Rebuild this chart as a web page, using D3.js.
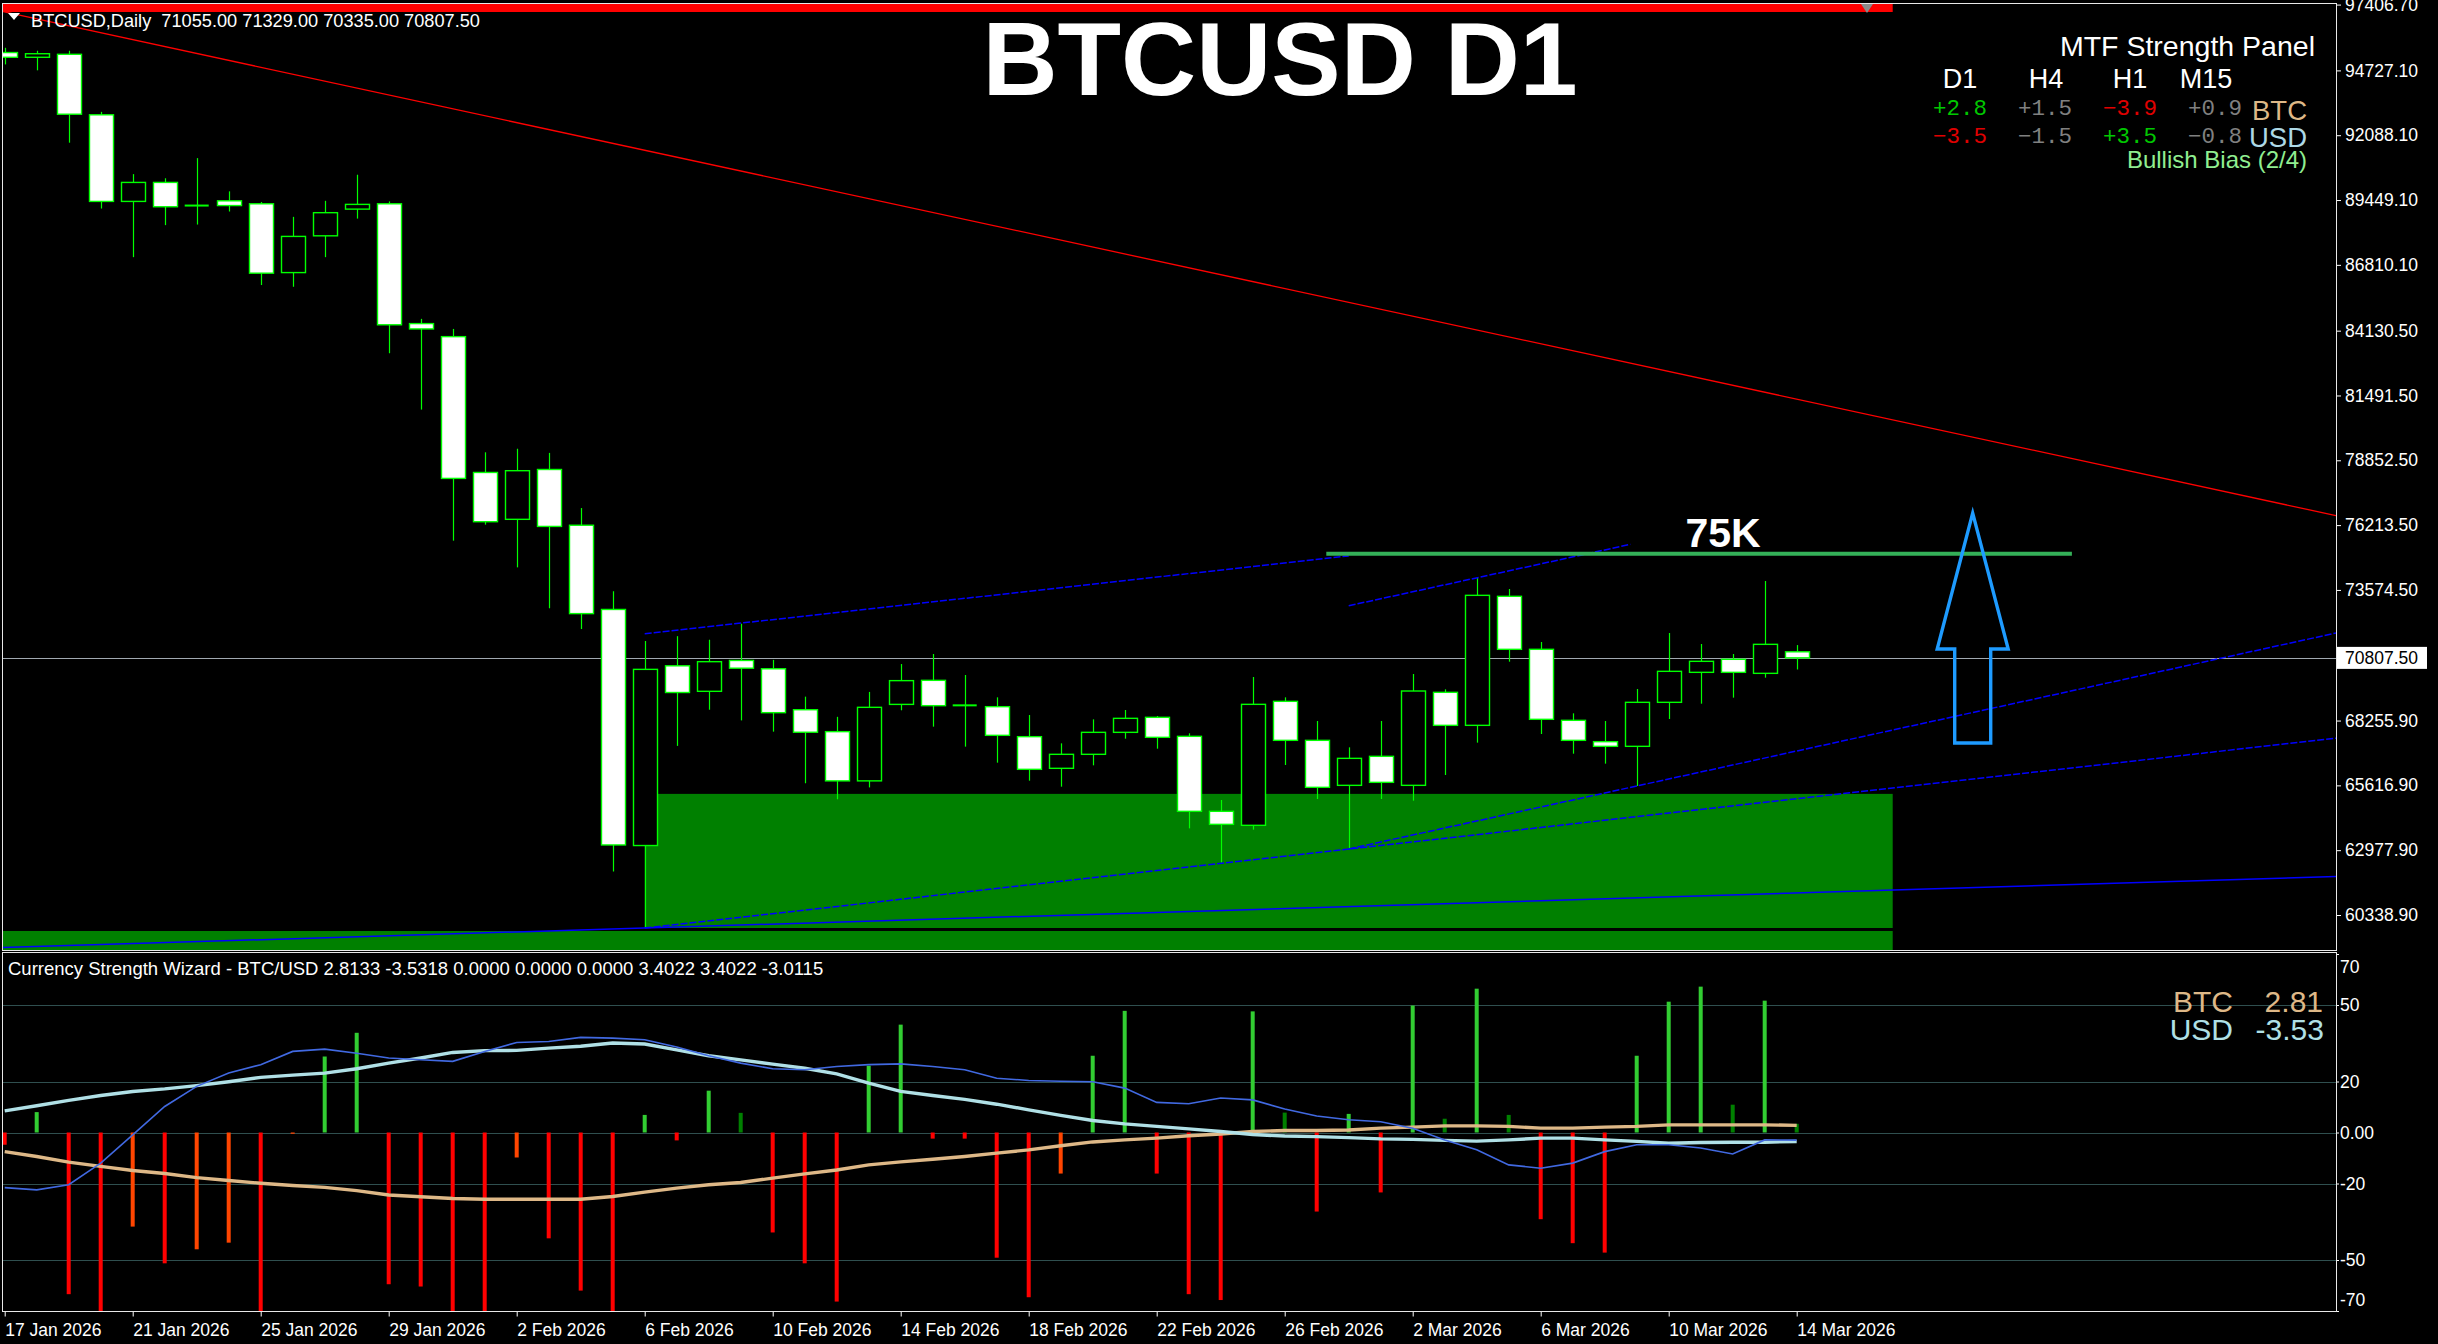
<!DOCTYPE html>
<html><head><meta charset="utf-8">
<script src="https://cdn.jsdelivr.net/npm/d3@7"></script>
<style>
html,body{margin:0;padding:0;background:#000;overflow:hidden}
svg{display:block}
</style></head><body>
<svg id="c" width="2438" height="1344"></svg>
<script>
// ---------------- DATA ----------------
const dates = ["2026-01-17","2026-01-18","2026-01-19","2026-01-20","2026-01-21","2026-01-22","2026-01-23","2026-01-24","2026-01-25","2026-01-26","2026-01-27","2026-01-28","2026-01-29","2026-01-30","2026-01-31",
"2026-02-01","2026-02-02","2026-02-03","2026-02-04","2026-02-05","2026-02-06","2026-02-07","2026-02-08","2026-02-09","2026-02-10","2026-02-11","2026-02-12","2026-02-13","2026-02-14","2026-02-15","2026-02-16","2026-02-17","2026-02-18","2026-02-19","2026-02-20","2026-02-21","2026-02-22","2026-02-23","2026-02-24","2026-02-25","2026-02-26","2026-02-27","2026-02-28",
"2026-03-01","2026-03-02","2026-03-03","2026-03-04","2026-03-05","2026-03-06","2026-03-07","2026-03-08","2026-03-09","2026-03-10","2026-03-11","2026-03-12","2026-03-13","2026-03-14"];
const open  = [95454,95261,95382,92919,89393,90166,89224,89417,89296,86495,87992,89079,89296,84418,83887,78357,76449,78478,76208,72779,63167,70485,69446,70702,70364,68697,67804,65800,68914,69893,68875,68821,67600,66311,66881,67776,68387,67613,64560,63990,69038,67450,65618,66799,65618,69405,68061,73314,71156,68265,67396,67206,68998,70219,70749,70178,71055];
const high  = [95648,95527,95527,93039,90504,90335,91156,89803,89369,88765,89417,90480,89393,84611,84201,79178,79323,79154,76908,73524,71499,71692,71547,72199,70726,69229,68408,69422,70557,70966,70110,69201,68482,67328,68305,68685,68441,67736,65021,70029,69201,68238,67165,68238,70152,69527,74087,73612,71454,68550,68238,69541,71821,71373,70966,73938,71329];
const low   = [94971,94730,91784,89103,87123,88427,88451,88982,85988,85917,87123,88693,83211,80917,75580,76232,74493,72827,71982,62105,59810,67224,68697,68262,67804,65703,65051,65534,68673,68007,67193,66541,65808,65564,66433,67518,67111,63867,62470,63813,66446,65062,63026,65062,64994,66039,67356,70653,67708,66907,66501,65591,68319,68943,69188,70002,70335];
const close = [95261,95406,92943,89393,90166,89176,89224,89224,86471,87968,88934,89272,84370,84201,78115,76352,78429,76160,72610,63191,70340,69398,70653,70388,68577,67780,65800,68794,69881,68862,68875,67654,66270,66881,67776,68346,67573,64560,64030,68916,67450,65537,66717,65740,69459,68061,73354,71156,68306,67450,67206,68998,70260,70667,70219,71359,70807.5];

const dateTicks = ["17 Jan 2026","21 Jan 2026","25 Jan 2026","29 Jan 2026","2 Feb 2026","6 Feb 2026","10 Feb 2026","14 Feb 2026","18 Feb 2026","22 Feb 2026","26 Feb 2026","2 Mar 2026","6 Mar 2026","10 Mar 2026","14 Mar 2026"];
const priceTicks = [97406.70,94727.10,92088.10,89449.10,86810.10,84130.50,81491.50,78852.50,76213.50,73574.50,68255.90,65616.90,62977.90,60338.90];
const lastPrice = 70807.5;
const symbolHeader = "BTCUSD,Daily  71055.00 71329.00 70335.00 70807.50";
const chartTitle = "BTCUSD D1";

// chart objects (bar index, price)
const redTrend = [{t:0,p:97105},{t:56,p:81344}];
const blueSegA = [{t:20,p:71790},{t:42,p:74960}];
const blueSegB = [{t:42,p:72930},{t:50.8,p:75430}];
const blueRayC = [{t:42,p:63026},{t:51,p:65591}];
const blueRayD = [{t:20,p:59810},{t:42,p:63026}];
const blueRayE = [{t:0,p:59016},{t:20,p:59810}];
const demandZone = {t0:20, t1:59, pTop:65270, pBot:59810};
const lowerStrip = {t0:-2, t1:59, pTop:59688, pBot:58700};
const topBand = {t0:-2, t1:59, pTop:97440, pBot:97105};
const level75 = {t0:41.3, t1:64.6, p:75050, label:"75K", labelT:53.7};
const upArrow = {t:61.5, pTip:76700, pHead:71169, pBottom:67340};

// MTF panel
const tfNames = ["D1","H4","H1","M15"];
const btcStrength = [2.8,1.5,-3.9,0.9];
const usdStrength = [-3.5,-1.5,3.5,-0.8];
const biasText = "Bullish Bias (2/4)";

// indicator
const indBuffers = [2.8133,-3.5318,0,0,0,3.4022,3.4022,-3.0115];
const hist = [-4.8,8.0,-63.4,-75,-36.9,-51.3,-45.8,-43.2,-75,-0.5,29.8,39.1,-59.5,-60.4,-75,-75,-9.8,-41.5,-62,-75,6.9,-3.1,16.4,7.7,-39.2,-51.3,-66.3,26.2,42.3,-2.4,-2.4,-49.1,-64.6,-16.1,30.1,47.7,-16.1,-63.4,-65.7,47.5,7.8,-31,7.3,-23.5,49.8,5.4,56.4,6.9,-34,-43.4,-47.1,30.1,51.3,57.2,10.9,51.7,3.4];
const histType = ["r","g","r","r","o","r","o","o","r","o","g","g","r","r","r","r","o","r","r","r","g","r","g","d","r","r","r","g","g","r","r","r","r","o","g","g","r","r","r","g","d","r","g","r","g","d","g","d","r","r","r","g","g","g","d","g","d"];
const btcLine = [-7.5,-9.4,-11.6,-13.3,-14.9,-16.1,-17.7,-18.8,-19.9,-20.8,-21.5,-22.8,-24.5,-25.2,-25.9,-26.2,-26.2,-26.2,-26.2,-25.1,-23.4,-21.8,-20.5,-19.6,-17.9,-16.2,-14.7,-12.7,-11.5,-10.5,-9.4,-8.1,-6.8,-5.2,-3.7,-2.9,-2.2,-1.3,-0.6,0.4,0.8,0.8,1.0,1.7,2.1,2.6,2.6,2.4,1.7,1.7,2.1,2.4,3.0,3.0,3.0,3.0,2.81];
const usdLine = [8.5,10.5,12.6,14.5,16.1,17.1,18.4,19.9,21.6,22.5,23.3,25.0,27.2,29.2,31.4,32.1,32.2,33.1,33.8,35.1,34.7,32.4,30.1,28.5,26.8,25.2,23.0,19.4,16.1,14.5,13.0,11.1,8.9,6.7,4.7,3.4,2.4,1.4,0.4,-0.8,-1.4,-1.6,-2.0,-2.5,-2.7,-3.1,-3.4,-2.9,-2.2,-2.2,-2.9,-3.5,-4.2,-3.9,-3.8,-3.8,-3.53];
const sigLine = [-21.6,-22.5,-20.5,-12.0,-0.9,10.2,18.1,23.3,26.6,31.8,32.7,31.1,29.2,28.5,27.9,31.8,35.3,35.7,37.3,37.0,36.4,33.5,30.1,27.2,25.0,24.6,25.9,26.6,26.9,25.9,24.6,21.3,20.4,20.1,19.9,17.4,11.8,11.3,13.5,12.8,9.2,6.5,5.0,4.2,1.7,-2.9,-6.8,-12.7,-14.0,-12.0,-7.5,-4.8,-4.8,-6.1,-8.4,-2.9,-3.0];
const indLevels = [50,20,0,-20,-50];
const indTicks = [70,50,20,0,-20,-50,-70];
const btcNow = 2.81, usdNow = -3.53;

// ---------------- LAYOUT ----------------
const mainL=2, mainR=2336, mainT=3, mainB=950, indT=953, indB=1311;
const FONT = "'Liberation Sans', Arial, sans-serif";
const svg = d3.select("#c");
svg.append("rect").attr("width",2438).attr("height",1344).attr("fill","#000");

const x = d3.scaleLinear().domain([0,56]).range([4.7,1796.7]);
const y = d3.scaleLinear().domain([60338.9,94727.1]).range([915,70.4]);
const yi = d3.scaleLinear().domain([-70,70]).range([indB,954]);

const defs = svg.append("defs");
defs.append("clipPath").attr("id","clipMain").append("rect").attr("x",mainL).attr("y",mainT).attr("width",mainR-mainL).attr("height",mainB-mainT);
defs.append("clipPath").attr("id","clipInd").append("rect").attr("x",mainL).attr("y",indT).attr("width",mainR-mainL).attr("height",indB-indT);

const gm = svg.append("g").attr("clip-path","url(#clipMain)");

// zones
function zoneRect(z, color){
  gm.append("rect").attr("x",x(z.t0)).attr("y",y(z.pTop))
    .attr("width",x(z.t1)-x(z.t0)).attr("height",y(z.pBot)-y(z.pTop)).attr("fill",color);
}
zoneRect(demandZone,"#008000");
zoneRect(lowerStrip,"#008000");
zoneRect(topBand,"#ff0000");

// current price line (behind candles)
gm.append("line").attr("x1",mainL).attr("x2",mainR).attr("y1",Math.round(y(lastPrice))+0.5).attr("y2",Math.round(y(lastPrice))+0.5)
  .attr("stroke","#a0a8b0").attr("stroke-width",1);

// candles
const idx = d3.range(dates.length);
const cg = gm.append("g");
cg.selectAll("line.wick").data(idx).join("line").attr("class","wick")
  .attr("x1",i=>Math.round(x(i))+0.5).attr("x2",i=>Math.round(x(i))+0.5)
  .attr("y1",i=>y(high[i])).attr("y2",i=>y(low[i]))
  .attr("stroke","#00ff00").attr("stroke-width",1.2);
cg.selectAll("rect.body").data(idx.filter(i=>open[i]!==close[i])).join("rect").attr("class","body")
  .attr("x",i=>Math.round(x(i))-11.5).attr("width",24)
  .attr("y",i=>y(Math.max(open[i],close[i]))).attr("height",i=>Math.max(1,Math.abs(y(open[i])-y(close[i]))))
  .attr("fill",i=>close[i]<open[i]?"#ffffff":"#000000")
  .attr("stroke","#00ff00").attr("stroke-width",1.4);
cg.selectAll("line.doji").data(idx.filter(i=>open[i]===close[i])).join("line").attr("class","doji")
  .attr("x1",i=>x(i)-12).attr("x2",i=>x(i)+12).attr("y1",i=>y(open[i])).attr("y2",i=>y(open[i]))
  .attr("stroke","#00ff00").attr("stroke-width",2);

// trend lines
function drawLine(pts, mode, color, width, dash){
  const x1=x(pts[0].t), y1=y(pts[0].p), x2=x(pts[1].t), y2=y(pts[1].p);
  const k=(y2-y1)/(x2-x1);
  let ax=x1, ay=y1, bx=x2, by=y2;
  if(mode==="right"||mode==="both"){ bx=mainR; by=y1+k*(mainR-x1); }
  if(mode==="both"){ ax=mainL; ay=y1+k*(mainL-x1); }
  const l = gm.append("line").attr("x1",ax).attr("y1",ay).attr("x2",bx).attr("y2",by)
    .attr("stroke",color).attr("stroke-width",width);
  if(dash) l.attr("stroke-dasharray",dash);
}
drawLine(redTrend,"both","#ff0000",1.3,null);
drawLine(blueSegA,"seg","#0000ff",1.5,"7,2");
drawLine(blueSegB,"seg","#0000ff",1.5,"7,2");
drawLine(blueRayC,"right","#0000ff",1.5,"7,2");
drawLine(blueRayD,"right","#0000ff",1.5,"7,2");
drawLine(blueRayE,"both","#0000ff",1.5,null);

// 75K level
gm.append("line").attr("x1",x(level75.t0)).attr("x2",x(level75.t1)).attr("y1",y(level75.p)).attr("y2",y(level75.p))
  .attr("stroke","#34b058").attr("stroke-width",4);
gm.append("text").attr("x",x(level75.labelT)).attr("y",y(level75.p)-7).attr("text-anchor","middle")
  .attr("font-family",FONT).attr("font-weight","bold").attr("font-size",41).attr("fill","#fff").text(level75.label);

// up arrow
{
  const cx=x(upArrow.t), yt=y(upArrow.pTip), yh=y(upArrow.pHead), yb=y(upArrow.pBottom);
  const hw=35.5, sw=18;
  const pts=[[cx,yt],[cx+hw,yh],[cx+sw,yh],[cx+sw,yb],[cx-sw,yb],[cx-sw,yh],[cx-hw,yh]];
  gm.append("polygon").attr("points",pts.map(p=>p.join(",")).join(" "))
    .attr("fill","none").attr("stroke","#1e9bff").attr("stroke-width",3.4).attr("stroke-linejoin","miter");
}

// top marker triangle (chart shift)
svg.append("polygon").attr("points","1861,4 1873,4 1867,13").attr("fill","#8a8a8a");

// header
svg.append("polygon").attr("points","8,13 20,13 14,20").attr("fill","#fff");
svg.append("text").attr("x",31).attr("y",26.5).attr("font-family",FONT).attr("font-size",18.2)
  .attr("fill","#fff").style("white-space","pre").text(symbolHeader);

// big title
svg.append("text").attr("x",1280).attr("y",95).attr("text-anchor","middle").attr("font-family",FONT)
  .attr("font-weight","bold").attr("font-size",104).attr("fill","#fff").text(chartTitle);

// MTF panel
svg.append("text").attr("x",2315).attr("y",56).attr("text-anchor","end").attr("font-family",FONT)
  .attr("font-size",28.5).attr("fill","#fff").text("MTF Strength Panel");
const hdrX=[1960,2046,2130,2206], valX=[1960,2045,2130,2215];
tfNames.forEach((n,k)=>svg.append("text").attr("x",hdrX[k]).attr("y",88).attr("text-anchor","middle")
  .attr("font-family",FONT).attr("font-size",27).attr("fill","#fff").text(n));
const fmtS = v => (v>=0?"+":"\u2212")+Math.abs(v).toFixed(1);
const colS = v => v>=2?"#00c800":(v<=-2?"#e00000":"#808080");
[[btcStrength,115],[usdStrength,143]].forEach(([arr,yy])=>arr.forEach((v,k)=>
  svg.append("text").attr("x",valX[k]).attr("y",yy).attr("text-anchor","middle")
    .attr("font-family","'Liberation Mono','DejaVu Sans Mono',monospace").attr("font-size",22.5)
    .attr("fill",colS(v)).text(fmtS(v))));
svg.append("text").attr("x",2307).attr("y",120).attr("text-anchor","end").attr("font-family",FONT)
  .attr("font-size",27.5).attr("fill","#deb887").text("BTC");
svg.append("text").attr("x",2307).attr("y",147).attr("text-anchor","end").attr("font-family",FONT)
  .attr("font-size",27.5).attr("fill","#add8e6").text("USD");
svg.append("text").attr("x",2307).attr("y",168).attr("text-anchor","end").attr("font-family",FONT)
  .attr("font-size",24).attr("fill","#90ee90").text(biasText);

// price axis
const pAxis = d3.axisRight(y).tickValues(priceTicks).tickFormat(d=>d.toFixed(2)).tickSize(5).tickPadding(4);
const pa = svg.append("g").attr("transform",`translate(${mainR},0)`).call(pAxis);
pa.select(".domain").remove();
pa.selectAll("line").attr("stroke","#fff");
pa.selectAll("text").attr("fill","#fff").attr("font-family",FONT).attr("font-size",17.5);
// last price box
svg.append("rect").attr("x",2337).attr("y",y(lastPrice)-11).attr("width",90).attr("height",22).attr("fill","#fff");
svg.append("text").attr("x",2345).attr("y",y(lastPrice)).attr("dy","0.35em").attr("font-family",FONT)
  .attr("font-size",17.5).attr("fill","#000").text(lastPrice.toFixed(2));

// ---------------- INDICATOR ----------------
const gi = svg.append("g").attr("clip-path","url(#clipInd)");
gi.selectAll("line.lvl").data(indLevels).join("line").attr("class","lvl")
  .attr("x1",mainL).attr("x2",mainR).attr("y1",d=>Math.round(yi(d))+0.5).attr("y2",d=>Math.round(yi(d))+0.5)
  .attr("stroke","#2f4f4f").attr("stroke-width",1);
const hcol = {r:"#ff0000",o:"#ff4500",g:"#32cd32",d:"#008000"};
gi.selectAll("rect.h").data(idx).join("rect").attr("class","h")
  .attr("x",i=>x(i)-2).attr("width",4)
  .attr("y",i=>Math.min(yi(0),yi(hist[i]))).attr("height",i=>Math.abs(yi(hist[i])-yi(0)))
  .attr("fill",i=>hcol[histType[i]]);
const lineGen = arr => d3.line().x((d,i)=>x(i)).y(d=>yi(d))(arr);
gi.append("path").attr("d",lineGen(btcLine)).attr("fill","none").attr("stroke","#deb887").attr("stroke-width",3.4);
gi.append("path").attr("d",lineGen(usdLine)).attr("fill","none").attr("stroke","#b0e0e6").attr("stroke-width",3.4);
gi.append("path").attr("d",lineGen(sigLine)).attr("fill","none").attr("stroke","#4169e1").attr("stroke-width",1.6);

svg.append("text").attr("x",8).attr("y",975).attr("font-family",FONT).attr("font-size",18.5).attr("fill","#fff")
  .text("Currency Strength Wizard - BTC/USD " + indBuffers.map(v=>v.toFixed(4)).join(" "));

svg.append("text").attr("x",2233).attr("y",1012).attr("text-anchor","end").attr("font-family",FONT).attr("font-size",30).attr("fill","#deb887").text("BTC");
svg.append("text").attr("x",2323).attr("y",1012).attr("text-anchor","end").attr("font-family",FONT).attr("font-size",30).attr("fill","#deb887").text(btcNow.toFixed(2));
svg.append("text").attr("x",2233).attr("y",1040).attr("text-anchor","end").attr("font-family",FONT).attr("font-size",30).attr("fill","#b0e0e6").text("USD");
svg.append("text").attr("x",2324).attr("y",1040).attr("text-anchor","end").attr("font-family",FONT).attr("font-size",30).attr("fill","#b0e0e6").text(usdNow.toFixed(2));

const iAxis = d3.axisRight(yi).tickValues(indTicks).tickFormat(d=>d===0?"0.00":String(d)).tickSize(3).tickPadding(1);
const ia = svg.append("g").attr("transform",`translate(${mainR},0)`).call(iAxis);
ia.select(".domain").remove();
ia.selectAll("line").attr("stroke","#fff");
ia.selectAll("text").attr("fill","#fff").attr("font-family",FONT).attr("font-size",17.5)
  .attr("transform",d=>d===70?"translate(0,13)":(d===-70?"translate(0,-11)":null));

// date axis
const dAxis = d3.axisBottom(x).tickValues(d3.range(0,57,4)).tickFormat((d,k)=>dateTicks[k]).tickSize(5).tickPadding(7);
const da = svg.append("g").attr("transform",`translate(0,${indB+0.5})`).call(dAxis);
da.select(".domain").remove();
da.selectAll("line").attr("stroke","#fff");
da.selectAll("text").attr("fill","#fff").attr("font-family",FONT).attr("font-size",17.5).attr("text-anchor","start").attr("x",0);

// frames
const frame = (x0,y0,x1,y1)=>svg.append("rect").attr("x",x0+0.5).attr("y",y0+0.5).attr("width",x1-x0).attr("height",y1-y0)
  .attr("fill","none").attr("stroke","#e8e8e8").attr("stroke-width",1);
frame(mainL,mainT,mainR,mainB);
frame(mainL,indT-1,mainR,indB);
</script></body></html>
